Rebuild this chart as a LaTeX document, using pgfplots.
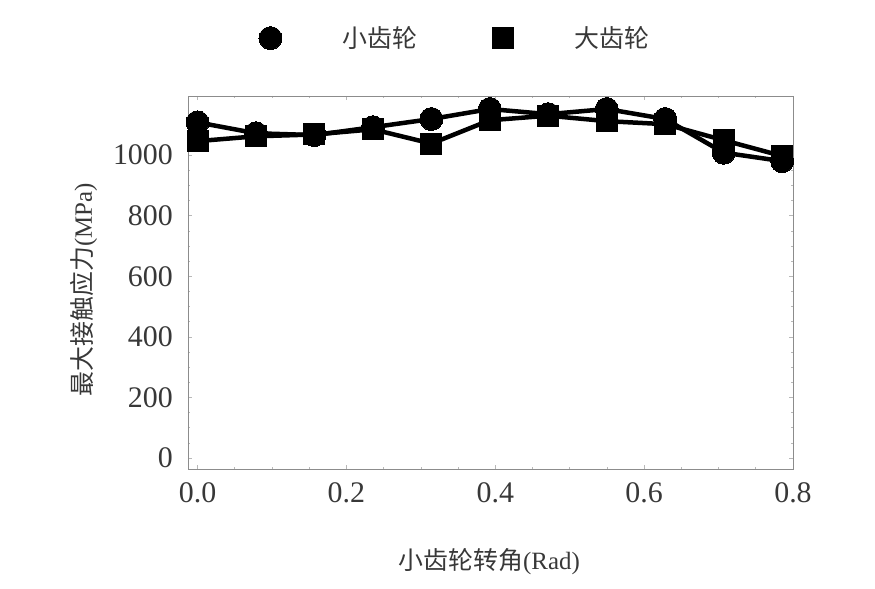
\documentclass[border=0pt]{standalone}
\usepackage{fontspec}
\setmainfont{Liberation Serif}
\newfontfamily\cjk{Noto Sans CJK SC}
\usepackage{pgfplots}
\pgfplotsset{compat=1.18}
\definecolor{txt}{gray}{0.22}
\definecolor{framec}{gray}{0.55}
\definecolor{tickc}{gray}{0.72}
\begin{document}
\begin{tikzpicture}
\useasboundingbox (-188bp,-120bp) rectangle (687bp,469bp);
\begin{axis}[at={(0,0)}, anchor=south west, scale only axis,
  width=605bp, height=373bp,
  xmin=-0.0128, xmax=0.8, ymin=-36, ymax=1195,
  xtick={0,0.2,0.4,0.6,0.8}, ytick={0,200,400,600,800,1000},
  minor x tick num=3, minor y tick num=3,
  tick align=inside, major tick length=4bp, minor tick length=2.5bp,
  axis line style={framec, line width=0.8bp},
  tick style={tickc, line width=0.6bp},
  /pgf/number format/assume math mode=true,
  /pgf/number format/1000 sep={},
  ticklabel style={font=\fontsize{30}{36}\selectfont, text=txt},
  xticklabel style={/pgf/number format/.cd, fixed, fixed zerofill, precision=1, /tikz/.cd, inner sep=0pt, yshift=-13bp, anchor=north},
  yticklabel style={inner sep=0pt, xshift=-15bp, anchor=east},
  xlabel={{\cjk 小齿轮转角}(Rad)},
  ylabel={{\cjk 最大接触应力}(MPa)},
  xlabel style={at={(axis description cs:0.498,-0.249)}, anchor=center, font=\fontsize{25}{30}\selectfont, text=txt},
  ylabel style={at={(axis description cs:-0.172,0.481)}, anchor=center, rotate=0, font=\fontsize{25}{30}\selectfont, text=txt},
  clip=false,
  legend columns=2,
  legend style={at={(axis description cs:0.44,1.155)}, anchor=center, draw=none, fill=none, inner sep=0pt,
    font=\cjk\fontsize{25}{30}\selectfont, text=txt, nodes={inner sep=0pt}},
  /tikz/every odd column/.append style={column sep=61bp},
  /tikz/every even column/.append style={column sep=75bp},
  legend image code/.code={\draw[#1, only marks] plot coordinates {(0cm,0cm)};},
]
\addplot[black, line width=4.5bp, mark=*, mark size=11.5bp, mark options={solid, fill=black, draw=black, line width=0pt}] coordinates {
(0.00000,1108) (0.07854,1072) (0.15708,1066) (0.23562,1092) (0.31416,1119) (0.39270,1152)
(0.47124,1135) (0.54978,1152) (0.62832,1119) (0.70686,1008) (0.78540,980)};
\addlegendentry{小齿轮}
\addplot[black, line width=4.5bp, mark=square*, mark size=10.5bp, mark options={solid, fill=black, draw=black, line width=0pt}] coordinates {
(0.00000,1046) (0.07854,1062) (0.15708,1068) (0.23562,1085) (0.31416,1038) (0.39270,1115)
(0.47124,1130) (0.54978,1112) (0.62832,1102) (0.70686,1049) (0.78540,997)};
\addlegendentry{大齿轮}
\end{axis}
\end{tikzpicture}
\end{document}
